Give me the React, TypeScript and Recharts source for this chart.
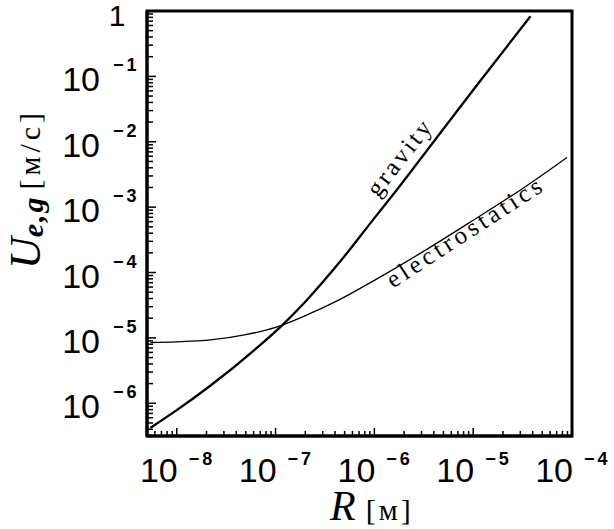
import { LineChart, Line, XAxis, YAxis, ReferenceDot, ReferenceArea } from 'recharts';

// R [м] and U [м/с]
const gravityR = [5.4e-9, 1e-8, 2.2e-8, 6.3e-8, 1.15e-7, 2e-7, 4.5e-7, 1e-6, 1.6e-6, 3.2e-6, 1e-5, 3.8e-5];
const gravityU = [4.2e-7, 7.85e-7, 1.87e-6, 6.8e-6, 1.53e-5, 3.58e-5, 1.47e-4, 6.8e-4, 1.66e-3, 6.5e-3, 6.2e-2, 0.83];

const electroR = [5.4e-9, 1e-8, 2.2e-8, 5e-8, 1e-7, 2e-7, 4e-7, 1e-6, 3.2e-6, 1e-5, 3.2e-5, 8.9e-5];
const electroU = [8.5e-6, 8.7e-6, 9.3e-6, 1.12e-5, 1.45e-5, 2.19e-5, 3.55e-5, 7.6e-5, 2.14e-4, 6.3e-4, 1.95e-3, 5.75e-3];

const X_DOMAIN = [5.0e-9, 1e-4];
const Y_DOMAIN = [3.16e-7, 1];
const X_MAJOR = [1e-8, 1e-7, 1e-6, 1e-5, 1e-4];
const Y_MAJOR = [1e-6, 1e-5, 1e-4, 1e-3, 1e-2, 1e-1, 1];
const MINOR = [2, 3, 4, 5, 6, 7, 8, 9];

// log ticks: majors plus 2..9 in every decade inside the domain
function logTicks(majors: number[], domain: number[]) {
  const out: number[] = [];
  const decades = [majors[0] / 10, ...majors];
  decades.forEach((d) => {
    if (d >= domain[0] && d <= domain[1]) out.push(d);
    MINOR.forEach((m) => {
      const v = d * m;
      if (v > domain[0] * 1.0001 && v < domain[1] * 0.9999) out.push(v);
    });
  });
  return out.sort((a, b) => a - b);
}

const xTicks = logTicks(X_MAJOR, X_DOMAIN);
const yTicks = logTicks(Y_MAJOR, Y_DOMAIN);

const gravityData = gravityR.map((r, i) => ({ r, u: gravityU[i] }));
const electroData = electroR.map((r, i) => ({ r, u: electroU[i] }));

const NUM_FONT = '"Liberation Sans", Arial, sans-serif';
const SERIF = '"Liberation Serif", "DejaVu Serif", serif';

function majorExp(v: number): number | null {
  const l = Math.log10(v);
  const e = Math.round(l);
  return Math.abs(l - e) < 1e-6 ? e : null;
}

// ticks point inward, labels as 10 with a raised exponent
function XTick(props: any) {
  const { x, y, payload } = props;
  const e = majorExp(payload.value);
  const major = e !== null;
  const len = major ? 8 : 5;
  return (
    <g>
      <rect x={x - 0.75} y={y - len} width={1.5} height={len} fill="#000" />
      {major && (
        <>
          <text x={x + 1} y={y + 46} textAnchor="end" fontSize={34} fontFamily={NUM_FONT} fill="#000">
            10
          </text>
          <text x={x + 12} y={y + 29} fontSize={18} fontWeight="bold" letterSpacing={3} fontFamily={NUM_FONT} fill="#000">
            {`\u2212${-e}`}
          </text>
        </>
      )}
    </g>
  );
}

function YTick(props: any) {
  const { x, y, payload } = props;
  const e = majorExp(payload.value);
  const major = e !== null;
  const len = major ? 9 : 6;
  return (
    <g>
      <rect x={x} y={y - 0.75} width={len} height={1.5} fill="#000" />
      {major && e === 0 && (
        <text x={x - 30} y={y + 15} textAnchor="middle" fontSize={30} fontFamily={NUM_FONT} fill="#000">
          1
        </text>
      )}
      {major && e !== 0 && (
        <>
          <text x={x - 47} y={y + 15} textAnchor="end" fontSize={34} fontFamily={NUM_FONT} fill="#000">
            10
          </text>
          <text x={x - 34} y={y - 5} fontSize={18} fontWeight="bold" letterSpacing={3} fontFamily={NUM_FONT} fill="#000">
            {`\u2212${-e}`}
          </text>
        </>
      )}
    </g>
  );
}

function XTitle(props: any) {
  const { viewBox } = props;
  const x0 = viewBox.x + 183;
  const y0 = viewBox.y + 84;
  return (
    <text x={x0} y={y0} fontFamily={SERIF} fill="#000">
      <tspan fontSize={42} fontStyle="italic">R</tspan>
      <tspan fontSize={30} dx={10} letterSpacing={3}>[м]</tspan>
    </text>
  );
}

function YTitle(props: any) {
  const { viewBox } = props;
  const cx = 40;
  const cy = viewBox.y + 178;
  return (
    <text transform={`translate(${cx}, ${cy}) rotate(-90)`} textAnchor="middle" fontFamily={SERIF} fill="#000">
      <tspan fontSize={44} fontStyle="italic">U</tspan>
      <tspan fontSize={30} fontStyle="italic" fontWeight="bold" dy={3} letterSpacing={2}>e,g</tspan>
      <tspan fontSize={30} dy={-3} dx={6} letterSpacing={4}>[м/с]</tspan>
    </text>
  );
}

function curveLabel(text: string, angle: number, spacing: number) {
  return (p: any) => (
    <text
      transform={`translate(${p.cx}, ${p.cy}) rotate(${angle})`}
      textAnchor="middle"
      fontFamily={SERIF}
      fontSize={25}
      letterSpacing={spacing}
      fill="#000"
    >
      {text}
    </text>
  );
}

const frameLine = { stroke: '#000', strokeWidth: 3 };

export default function App() {
  return (
    <div style={{ position: 'absolute', left: 0, top: 0, background: '#fff' }}>
      <LineChart width={614} height={529} margin={{ top: 11, right: 42, bottom: 0, left: 0 }}>
        <XAxis
          dataKey="r"
          type="number"
          scale="log"
          domain={X_DOMAIN}
          allowDataOverflow
          ticks={xTicks}
          interval={0}
          tick={<XTick />}
          tickLine={false}
          tickSize={0}
          tickMargin={0}
          axisLine={frameLine}
          height={93}
          label={<XTitle />}
        />
        <YAxis
          type="number"
          scale="log"
          domain={Y_DOMAIN}
          allowDataOverflow
          ticks={yTicks}
          interval={0}
          tick={<YTick />}
          tickLine={false}
          tickSize={0}
          tickMargin={0}
          axisLine={frameLine}
          width={147}
          label={<YTitle />}
        />
        <ReferenceArea
          x1={X_DOMAIN[0]}
          x2={X_DOMAIN[1]}
          y1={Y_DOMAIN[0]}
          y2={Y_DOMAIN[1]}
          fill="none"
          fillOpacity={0}
          stroke="#000"
          strokeWidth={3}
          strokeOpacity={1}
          ifOverflow="visible"
        />
        <Line
          data={electroData}
          dataKey="u"
          type="monotone"
          stroke="#000"
          strokeWidth={1.3}
          dot={false}
          isAnimationActive={false}
        />
        <Line
          data={gravityData}
          dataKey="u"
          type="monotone"
          stroke="#000"
          strokeWidth={2.3}
          dot={false}
          isAnimationActive={false}
        />
        <ReferenceDot x={2.1e-6} y={4.9e-3} r={0} shape={curveLabel('gravity', -52, 3)} />
        <ReferenceDot x={9.3e-6} y={3.3e-4} r={0} shape={curveLabel('electrostatics', -33, 3.8)} />
      </LineChart>
    </div>
  );
}
